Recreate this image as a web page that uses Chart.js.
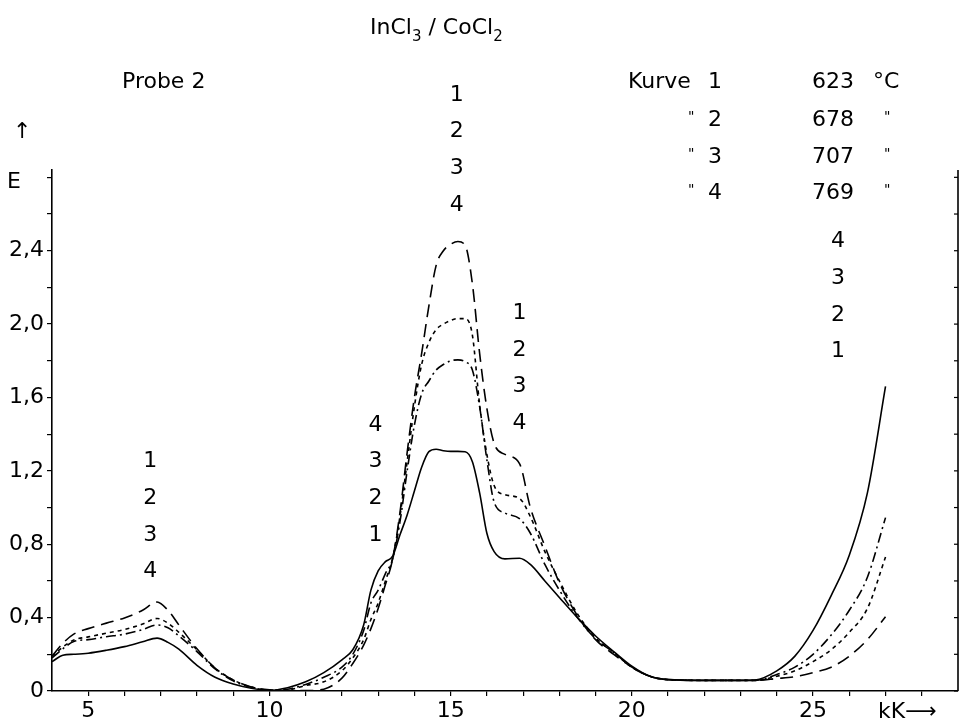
<!DOCTYPE html>
<html>
<head>
<meta charset="utf-8">
<script src="https://cdn.jsdelivr.net/npm/chart.js@4.4.1/dist/chart.umd.min.js"></script>
<style>
  html, body { margin: 0; padding: 0; background: #fff; }
  #wrap { position: relative; width: 960px; height: 723px; }
</style>
</head>
<body>
<div id="wrap"><canvas id="c" width="960" height="723"></canvas></div>
<script>
// ---- data ----
const kK = [4.0, 4.3, 4.6, 5.0, 5.5, 6.0, 6.5, 6.9, 7.2, 7.5, 8.0, 8.5, 9.0, 9.5, 10.0, 10.5, 11.0, 11.5, 12.0, 12.3, 12.6, 12.8, 13.0, 13.2, 13.4, 13.6, 13.8, 14.0, 14.2, 14.4, 14.6, 14.8, 15.0, 15.2, 15.4, 15.6, 15.8, 16.0, 16.2, 16.5, 16.9, 17.2, 17.6, 18.0, 18.5, 19.0, 19.5, 20.0, 20.5, 21.0, 22.0, 23.0, 23.4, 24.0, 24.5, 25.0, 25.5, 26.0, 26.5, 27.0];

// Kurve 1, 623 °C (dashed)
const kurve1 = [0.19, 0.26, 0.31, 0.34, 0.37, 0.398, 0.44, 0.485, 0.44, 0.36, 0.23, 0.125, 0.06, 0.022, 0.006, 0.002, 0.002, 0.01, 0.07, 0.15, 0.25, 0.34, 0.45, 0.58, 0.72, 0.97, 1.30, 1.60, 1.84, 2.10, 2.32, 2.40, 2.435, 2.45, 2.43, 2.22, 1.84, 1.54, 1.35, 1.29, 1.24, 1.00, 0.79, 0.59, 0.41, 0.28, 0.20, 0.13, 0.08, 0.062, 0.058, 0.058, 0.058, 0.068, 0.078, 0.10, 0.13, 0.19, 0.28, 0.405];
// Kurve 2, 678 °C (dotted)
const kurve2 = [0.19, 0.24, 0.278, 0.295, 0.315, 0.335, 0.365, 0.395, 0.37, 0.32, 0.225, 0.125, 0.06, 0.022, 0.005, 0.006, 0.03, 0.05, 0.11, 0.18, 0.28, 0.39, 0.48, 0.60, 0.725, 0.95, 1.25, 1.55, 1.78, 1.90, 1.97, 2.00, 2.02, 2.03, 2.03, 1.94, 1.56, 1.29, 1.12, 1.07, 1.05, 0.95, 0.76, 0.60, 0.42, 0.29, 0.21, 0.13, 0.08, 0.062, 0.058, 0.058, 0.058, 0.08, 0.11, 0.16, 0.225, 0.32, 0.45, 0.73];
// Kurve 3, 707 °C (dash-dot)
const kurve3 = [0.18, 0.23, 0.27, 0.28, 0.296, 0.31, 0.335, 0.36, 0.345, 0.30, 0.215, 0.12, 0.055, 0.02, 0.004, 0.01, 0.036, 0.075, 0.13, 0.20, 0.33, 0.48, 0.55, 0.64, 0.72, 0.92, 1.20, 1.45, 1.62, 1.69, 1.75, 1.78, 1.80, 1.805, 1.795, 1.75, 1.55, 1.26, 1.03, 0.97, 0.94, 0.86, 0.69, 0.55, 0.40, 0.285, 0.21, 0.13, 0.08, 0.062, 0.058, 0.058, 0.058, 0.09, 0.13, 0.20, 0.305, 0.44, 0.62, 0.945];
// Kurve 4, 769 °C (solid)
const kurve4 = [0.16, 0.195, 0.20, 0.206, 0.222, 0.242, 0.268, 0.288, 0.265, 0.228, 0.14, 0.075, 0.038, 0.015, 0.004, 0.018, 0.05, 0.10, 0.17, 0.225, 0.36, 0.55, 0.655, 0.705, 0.735, 0.85, 0.96, 1.09, 1.22, 1.305, 1.318, 1.31, 1.306, 1.306, 1.304, 1.25, 1.08, 0.86, 0.76, 0.72, 0.724, 0.69, 0.60, 0.51, 0.40, 0.30, 0.215, 0.135, 0.08, 0.062, 0.058, 0.058, 0.06, 0.11, 0.19, 0.33, 0.52, 0.74, 1.08, 1.66];

const curveNames = ['Kurve 1', 'Kurve 2', 'Kurve 3', 'Kurve 4'];
const curveNums = ['1', '2', '3', '4'];
const curveTemps = ['623', '678', '707', '769'];

const xTickValues = [5, 6, 7, 8, 9, 10, 11, 12, 13, 14, 15, 16, 17, 18, 19, 20, 21, 22, 23, 24, 25, 26, 27, 28];
const xTickLabels = [5, 10, 15, 20, 25];
const yTickValues = [0, 0.2, 0.4, 0.6, 0.8, 1.0, 1.2, 1.4, 1.6, 1.8, 2.0, 2.2, 2.4, 2.6, 2.8];
const yTickLabels = [0, 0.4, 0.8, 1.2, 1.6, 2.0, 2.4];

// number stacks beside the curves: [x (kK), top y (E), labels top->bottom]
const stackX = [6.71, 12.93, 15.17, 16.9, 25.69];
const stackTopY = [1.25, 1.45, 3.25, 2.06, 2.45];
const stackLabels = [['1','2','3','4'], ['4','3','2','1'], ['1','2','3','4'], ['1','2','3','4'], ['4','3','2','1']];

// ---- chart ----
const FONT = '"DejaVu Sans", sans-serif';
const pts = arr => kK.map((x, i) => ({ x: x, y: arr[i] }));
const base = { borderColor: '#000', backgroundColor: '#000', borderWidth: 1.6, pointRadius: 0, fill: false, cubicInterpolationMode: 'monotone' };

const textPlugin = {
  id: 'texts',
  afterDraw(chart) {
    const ctx = chart.ctx;
    const xs = chart.scales.x, ys = chart.scales.y;
    const area = chart.chartArea;
    ctx.save();
    ctx.fillStyle = '#000';
    ctx.strokeStyle = '#000';
    // right axis line with inward ticks
    ctx.lineWidth = 1.6;
    ctx.beginPath();
    ctx.moveTo(area.right, area.top);
    ctx.lineTo(area.right, area.bottom);
    ctx.stroke();
    ctx.lineWidth = 1.2;
    yTickValues.forEach(v => {
      const py = ys.getPixelForValue(v);
      ctx.beginPath();
      ctx.moveTo(area.right - 4, py);
      ctx.lineTo(area.right, py);
      ctx.stroke();
    });

    ctx.textBaseline = 'middle';
    ctx.textAlign = 'center';
    ctx.font = '22px ' + FONT;
    // number stacks
    stackX.forEach((sx, i) => {
      stackLabels[i].forEach((lab, j) => {
        const px = xs.getPixelForValue(sx);
        const py = ys.getPixelForValue(stackTopY[i] - 0.2 * j);
        ctx.fillText(lab, px, py);
      });
    });

    ctx.textAlign = 'left';
    // title with subscripts
    const big = '22px ' + FONT, small = '15px ' + FONT;
    let tx = 370;
    const part = (s, f, dy) => { ctx.font = f; ctx.fillText(s, tx, 28 + dy); tx += ctx.measureText(s).width; };
    part('InCl', big, 0); part('3', small, 9); part(' / ', big, 0); part('CoCl', big, 0); part('2', small, 9);
    ctx.font = big;
    // sample label
    ctx.fillText('Probe 2', 122, 82);
    // legend block
    const rows = [82, 120, 157, 193];
    rows.forEach((ry, i) => {
      ctx.font = big;
      if (i === 0) {
        ctx.fillText(curveNames[i].split(' ')[0], 628, ry);
        ctx.fillText('\u00B0C', 873, ry);
      } else {
        ctx.font = '14px ' + FONT;
        ctx.fillText('"', 688, ry - 3);
        ctx.fillText('"', 884, ry - 3);
        ctx.font = big;
      }
      ctx.fillText(curveNums[i], 708, ry);
      ctx.fillText(curveTemps[i], 812, ry);
    });
    // axis names
    ctx.fillText('E', 7, 182);
    ctx.fillText('\u2191', 13, 132);
    ctx.fillText('kK\u27F6', 878, 712);
    ctx.restore();
  }
};

new Chart(document.getElementById('c'), {
  type: 'line',
  data: {
    datasets: [
      Object.assign({ label: curveNames[0] + ' ' + curveTemps[0] + ' \u00B0C', data: pts(kurve1), borderDash: [13, 7] }, base),
      Object.assign({ label: curveNames[1] + ' ' + curveTemps[1] + ' \u00B0C', data: pts(kurve2), borderDash: [4, 4] }, base),
      Object.assign({ label: curveNames[2] + ' ' + curveTemps[2] + ' \u00B0C', data: pts(kurve3), borderDash: [10, 4, 2, 4] }, base),
      Object.assign({ label: curveNames[3] + ' ' + curveTemps[3] + ' \u00B0C', data: pts(kurve4), borderDash: [] }, base)
    ]
  },
  options: {
    responsive: false,
    animation: false,
    events: [],
    layout: { padding: { top: 170, right: 2, left: 0, bottom: 0 } },
    plugins: { legend: { display: false }, tooltip: { enabled: false }, title: { display: false } },
    scales: {
      x: {
        type: 'linear', min: 4, max: 29,
        afterBuildTicks: s => { s.ticks = xTickValues.map(v => ({ value: v })); },
        afterFit: s => { s.height = 32; },
        ticks: {
          autoSkip: false, maxRotation: 0, color: '#000', padding: 2,
          font: { family: FONT, size: 22 },
          callback: v => xTickLabels.includes(v) ? String(v) : ''
        },
        grid: { drawOnChartArea: false, drawTicks: true, tickLength: 5, color: '#000', lineWidth: 1.2 },
        border: { display: true, color: '#000', width: 1.6 }
      },
      y: {
        type: 'linear', min: 0, max: 2.84,
        afterBuildTicks: s => { s.ticks = yTickValues.map(v => ({ value: v })); },
        afterFit: s => { s.width = 52; },
        ticks: {
          autoSkip: false, color: '#000', padding: 3,
          font: { family: FONT, size: 22 },
          callback: v => yTickLabels.some(t => Math.abs(t - v) < 1e-6) ? (v === 0 ? '0' : v.toFixed(1).replace('.', ',')) : ''
        },
        grid: { drawOnChartArea: false, drawTicks: true, tickLength: 5, color: '#000', lineWidth: 1.2 },
        border: { display: true, color: '#000', width: 1.6 }
      }
    }
  },
  plugins: [textPlugin]
});
</script>
</body>
</html>
